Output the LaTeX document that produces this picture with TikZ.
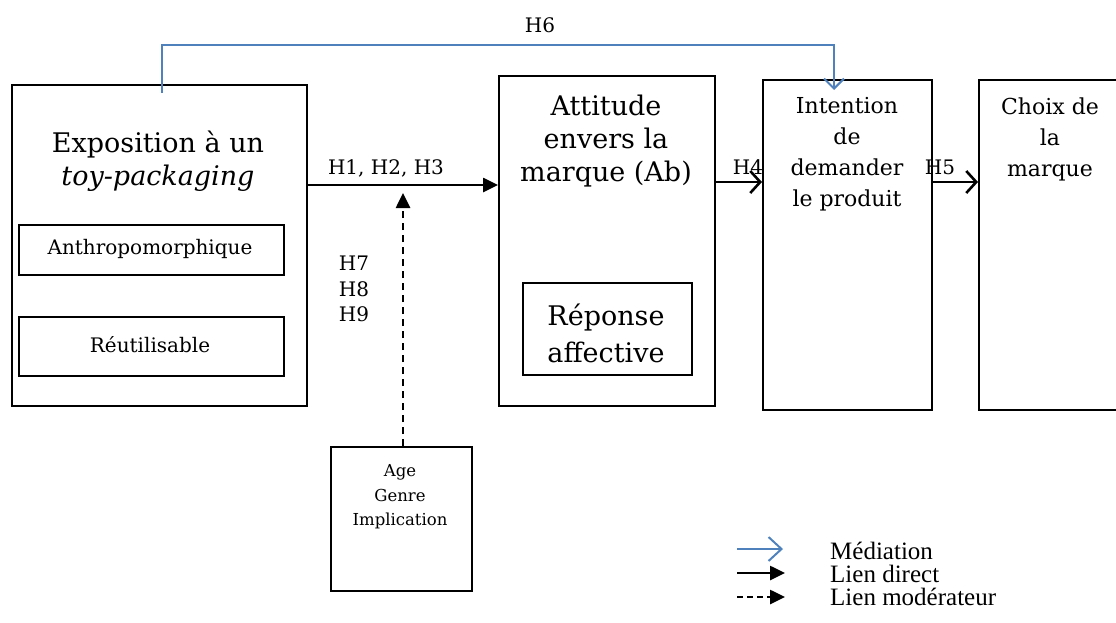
\documentclass[tikz,border=0pt]{standalone}
\usepackage{fontspec}
\setmainfont{DejaVu Serif}
\newfontfamily\legendfont{Liberation Serif}
\usetikzlibrary{arrows.meta}
\definecolor{medblue}{RGB}{79,129,189}
\begin{document}
\begin{tikzpicture}[x=1pt,y=-1pt,
  box/.style={draw, line width=2pt, inner sep=0pt},
  big/.style={font=\fontsize{27}{33}\selectfont, align=center, inner sep=0pt},
  mid/.style={font=\fontsize{22}{31}\selectfont, align=center, inner sep=0pt},
  small/.style={font=\fontsize{20}{24}\selectfont, align=center, inner sep=0pt},
  tiny/.style={font=\fontsize{16.5}{24.5}\selectfont, align=center, inner sep=0pt},
  leg/.style={font=\legendfont\fontsize{25}{25}\selectfont, anchor=west, inner sep=0pt},
  direct/.style={line width=2.6pt, -{Triangle[length=15pt,width=14pt]}},
  moder/.style={line width=2.6pt, dash pattern=on 7pt off 5pt, -{Triangle[length=15pt,width=14pt]}},
  barb/.style={line width=2.6pt, -{Straight Barb[length=10pt,width=22pt,line width=2.6pt]}},
  med/.style={draw=medblue, line width=2pt, -{Straight Barb[length=10pt,width=20pt,line width=2pt]}},
]
\useasboundingbox (0,0) rectangle (1116,622);

% main boxes
\node[box, anchor=north west, minimum width=295pt, minimum height=321pt] (expo) at (11,84) {};
\node[box, anchor=north west, minimum width=265pt, minimum height=50pt] (anth) at (18,224) {};
\node[box, anchor=north west, minimum width=265pt, minimum height=59pt] (reut) at (18,316) {};
\node[box, anchor=north west, minimum width=216pt, minimum height=330pt] (att) at (498,75) {};
\node[box, anchor=north west, minimum width=169pt, minimum height=92pt] (rep) at (522,282) {};
\node[box, anchor=north west, minimum width=169pt, minimum height=330pt] (int) at (762,79) {};
\node[box, anchor=north west, minimum width=150pt, minimum height=330pt] (cho) at (978,79) {};
\node[box, anchor=north west, minimum width=141pt, minimum height=144pt] (age) at (330,446) {};

% texts
\node[big] (expoT) at (158,161) {Exposition à un\\\textit{toy-packaging}};
\node[small] (anthT) at (150,249) {Anthropomorphique};
\node[small] (reutT) at (150,345) {Réutilisable};
\node[big] (attT) at (606,141) {Attitude\\envers la\\marque (Ab)};
\node[big, font=\fontsize{27}{37}\selectfont] (repT) at (606,333) {Réponse\\affective};
\node[mid] (intT) at (847,154) {Intention\\de\\demander\\le produit};
\node[mid] (choT) at (1050,139) {Choix de\\la\\marque};
\node[tiny] (ageT) at (400,497) {Age\\Genre\\Implication};

% connectors
\coordinate (h1y) at (0,185);
\draw[direct] (expo.east |- h1y) -- (att.west |- h1y);
\node[small] (h123) at (386,168) {H1, H2, H3};

\coordinate (modtip) at (403,193);
\draw[moder] (age.north -| modtip) -- (modtip);
\node[small, font=\fontsize{20}{25.5}\selectfont] (h789) at (354,289) {H7\\H8\\H9};

\coordinate (h4y) at (0,182);
\draw[barb] (att.east |- h4y) -- (int.west |- h4y);
\node[small] (h4) at (748,167) {H4};
\draw[barb] (int.east |- h4y) -- (cho.west |- h4y);
\node[small] (h5) at (940,167) {H5};

\coordinate (h6s) at (162,93);
\coordinate (h6top) at (162,45);
\coordinate (h6e) at (834,90);
\draw[med] (h6s) -- (h6top) -| (h6e);
\node[small] (h6) at (540,25) {H6};

% legend
\coordinate (l1a) at (737,549);
\coordinate (l1b) at (783,549);
\coordinate (l2a) at (737,573);
\coordinate (l2b) at (785,573);
\coordinate (l3a) at (737,597);
\coordinate (l3b) at (785,597);
\draw[med, -{Straight Barb[length=13pt,width=24pt,line width=2pt]}] (l1a) -- (l1b);
\draw[direct] (l2a) -- (l2b);
\draw[moder, dash pattern=on 6pt off 4pt] (l3a) -- (l3b);
\node[leg] (lm) at (830,551) {Médiation};
\node[leg] (ld) at (830,574) {Lien direct};
\node[leg] (lmo) at (830,597) {Lien modérateur};
\end{tikzpicture}
\end{document}
